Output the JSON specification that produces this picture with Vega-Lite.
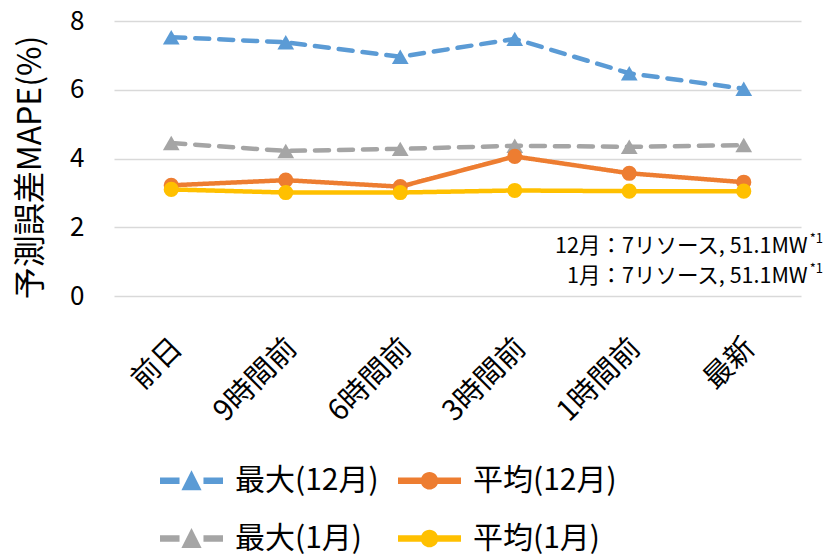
{
  "$schema": "https://vega.github.io/schema/vega-lite/v6.json",
  "width": 687,
  "height": 275,
  "autosize": {"type": "none"},
  "padding": {"left": 114, "top": 21, "right": 26, "bottom": 261},
  "config": {
    "font": "Noto Sans CJK JP",
    "view": {"stroke": null}
  },
  "datasets": {
    "main": [
      {"time": "前日", "series": "最大(12月)", "value": 7.53},
      {"time": "9時間前", "series": "最大(12月)", "value": 7.38},
      {"time": "6時間前", "series": "最大(12月)", "value": 6.96},
      {"time": "3時間前", "series": "最大(12月)", "value": 7.48},
      {"time": "1時間前", "series": "最大(12月)", "value": 6.48},
      {"time": "最新", "series": "最大(12月)", "value": 6.03},
      {"time": "前日", "series": "最大(1月)", "value": 4.45},
      {"time": "9時間前", "series": "最大(1月)", "value": 4.22},
      {"time": "6時間前", "series": "最大(1月)", "value": 4.28},
      {"time": "3時間前", "series": "最大(1月)", "value": 4.37},
      {"time": "1時間前", "series": "最大(1月)", "value": 4.34},
      {"time": "最新", "series": "最大(1月)", "value": 4.39},
      {"time": "前日", "series": "平均(12月)", "value": 3.22},
      {"time": "9時間前", "series": "平均(12月)", "value": 3.37},
      {"time": "6時間前", "series": "平均(12月)", "value": 3.18},
      {"time": "3時間前", "series": "平均(12月)", "value": 4.06},
      {"time": "1時間前", "series": "平均(12月)", "value": 3.57},
      {"time": "最新", "series": "平均(12月)", "value": 3.31},
      {"time": "前日", "series": "平均(1月)", "value": 3.1},
      {"time": "9時間前", "series": "平均(1月)", "value": 3.01},
      {"time": "6時間前", "series": "平均(1月)", "value": 3.01},
      {"time": "3時間前", "series": "平均(1月)", "value": 3.07},
      {"time": "1時間前", "series": "平均(1月)", "value": 3.05},
      {"time": "最新", "series": "平均(1月)", "value": 3.05}
    ],
    "notes": [
      {"time": "最新", "value": 1.42, "label": "12月：7リソース, 51.1MW", "sup": "*1"},
      {"time": "最新", "value": 0.56, "label": "1月：7リソース, 51.1MW", "sup": "*1"}
    ]
  },
  "encoding": {
    "x": {
      "field": "time",
      "type": "nominal",
      "sort": ["前日", "9時間前", "6時間前", "3時間前", "1時間前", "最新"],
      "scale": {"type": "point", "padding": 0.5},
      "axis": {
        "title": null,
        "domain": false,
        "ticks": false,
        "labelAngle": -45,
        "labelFontSize": 29,
        "labelPadding": 37,
        "labelOffset": -4,
        "labelColor": "#000000"
      }
    },
    "y": {
      "field": "value",
      "type": "quantitative",
      "scale": {"domain": [0, 8], "nice": false, "zero": true},
      "axis": {
        "title": "予測誤差MAPE(%)",
        "titleFontSize": 32,
        "titleFontWeight": "normal",
        "titleColor": "#000000",
        "titleX": -84,
        "titleY": 146,
        "titleAngle": -90,
        "titleAlign": "center",
        "titleBaseline": "middle",
        "values": [0, 2, 4, 6, 8],
        "labelFontSize": 26,
        "labelColor": "#000000",
        "labelPadding": 30,
        "domain": false,
        "ticks": false,
        "grid": true,
        "gridColor": "#D9D9D9",
        "gridWidth": 1.5
      }
    }
  },
  "layer": [
    {
      "data": {"name": "main"},
      "mark": {"type": "line", "strokeWidth": 4.5, "strokeCap": "round"},
      "encoding": {
        "stroke": {
          "field": "series",
          "type": "nominal",
          "sort": ["最大(12月)", "平均(12月)", "最大(1月)", "平均(1月)"],
          "scale": {"range": ["#5B9BD5", "#ED7D31", "#A5A5A5", "#FFC000"]},
          "legend": null
        },
        "strokeDash": {
          "field": "series",
          "type": "nominal",
          "sort": ["最大(12月)", "平均(12月)", "最大(1月)", "平均(1月)"],
          "scale": {"range": [[14, 10], [1, 0], [14, 10], [1, 0]]},
          "legend": null
        }
      }
    },
    {
      "data": {"name": "main"},
      "transform": [{"filter": "indexof(datum.series, '最大') === 0"}],
      "mark": {"type": "point", "shape": "triangle-up", "filled": true, "opacity": 1, "size": 280, "strokeWidth": 0},
      "encoding": {
        "fill": {
          "field": "series",
          "type": "nominal",
          "sort": ["最大(12月)", "平均(12月)", "最大(1月)", "平均(1月)"],
          "scale": {"range": ["#5B9BD5", "#ED7D31", "#A5A5A5", "#FFC000"]},
          "legend": null
        }
      }
    },
    {
      "data": {"name": "main"},
      "transform": [{"filter": "indexof(datum.series, '平均') === 0"}],
      "mark": {"type": "point", "shape": "circle", "filled": true, "opacity": 1, "size": 230, "strokeWidth": 0},
      "encoding": {
        "fill": {
          "field": "series",
          "type": "nominal",
          "sort": ["最大(12月)", "平均(12月)", "最大(1月)", "平均(1月)"],
          "legend": null
        }
      }
    },
    {
      "data": {"name": "main"},
      "mark": {"type": "point", "filled": true, "opacity": 1, "size": 0},
      "encoding": {
        "color": {
          "field": "series",
          "type": "nominal",
          "scale": {
            "domain": ["最大(12月)", "平均(12月)", "最大(1月)", "平均(1月)"],
            "range": ["#5B9BD5", "#ED7D31", "#A5A5A5", "#FFC000"]
          },
          "legend": {
            "title": null,
            "orient": "none",
            "legendX": 46,
            "legendY": 428,
            "direction": "horizontal",
            "columns": 2,
            "columnPadding": 19,
            "rowPadding": 11,
            "padding": 0,
            "labelFontSize": 30,
            "labelColor": "#000000",
            "labelOffset": 12,
            "labelLimit": 300,
            "symbolSize": 3969,
            "symbolStrokeWidth": 0,
            "symbolOpacity": 1
          }
        },
        "shape": {
          "field": "series",
          "type": "nominal",
          "scale": {
            "domain": ["最大(12月)", "平均(12月)", "最大(1月)", "平均(1月)"],
            "range": [
              "M-1,-0.1H-0.38V0.1H-1Z M0.38,-0.1H1V0.1H0.38Z M0,-0.33L0.32,0.3H-0.32Z",
              "M-1,-0.1H1V0.1H-1Z M-0.28,0A0.28,0.28 0 1,1 0.28,0A0.28,0.28 0 1,1 -0.28,0Z",
              "M-1,-0.1H-0.38V0.1H-1Z M0.38,-0.1H1V0.1H0.38Z M0,-0.33L0.32,0.3H-0.32Z",
              "M-1,-0.1H1V0.1H-1Z M-0.28,0A0.28,0.28 0 1,1 0.28,0A0.28,0.28 0 1,1 -0.28,0Z"
            ]
          },
          "legend": {
            "title": null,
            "orient": "none",
            "legendX": 46,
            "legendY": 428,
            "direction": "horizontal",
            "columns": 2,
            "columnPadding": 19,
            "rowPadding": 11,
            "padding": 0,
            "labelFontSize": 30,
            "labelColor": "#000000",
            "labelOffset": 12,
            "labelLimit": 300,
            "symbolSize": 3969,
            "symbolStrokeWidth": 0,
            "symbolOpacity": 1
          }
        }
      }
    },
    {
      "data": {"name": "notes"},
      "mark": {"type": "text", "align": "right", "baseline": "middle", "fontSize": 21.5, "dx": 64, "color": "#000000"},
      "encoding": {
        "text": {"field": "label"}
      }
    },
    {
      "data": {"name": "notes"},
      "mark": {"type": "text", "align": "left", "baseline": "middle", "fontSize": 13, "dx": 66, "dy": -8, "color": "#000000"},
      "encoding": {
        "text": {"field": "sup"}
      }
    }
  ]
}
